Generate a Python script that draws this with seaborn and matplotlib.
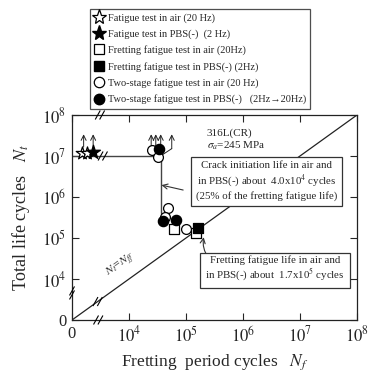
import numpy as np
import matplotlib
matplotlib.use("Agg")
import matplotlib.pyplot as plt
import seaborn as sns
from matplotlib.lines import Line2D

# data (cycles); N_f "0" drawn at the 10^3 position of the broken axis
star_air_nf = [1.5e3, 1.8e3]
star_air_nt = [1.2e7, 1.2e7]
star_pbs_nf = [2.35e3]
star_pbs_nt = [1.22e7]
ff_air_nf = [6.2e4, 1.48e5]
ff_air_nt = [1.65e5, 1.32e5]
ff_pbs_nf = [1.62e5]
ff_pbs_nt = [1.75e5]
ts_air_nf = [2.5e4, 3.2e4, 4.9e4, 4.3e4, 1.0e5]
ts_air_nt = [1.4e7, 9.3e6, 5.4e5, 3.2e5, 1.66e5]
ts_pbs_nf = [3.4e4, 4.0e4, 6.6e4]
ts_pbs_nt = [1.45e7, 2.6e5, 2.8e5]
runout_nf = [1.6e3, 2.35e3, 2.45e4, 2.95e4, 3.6e4]
crack_init = 3.6e4          # step of the N_t line
runout_nt = 1.0e7
step_low = 4.0e5

sns.set_style("ticks")
plt.rcParams['font.family'] = ['Liberation Serif', 'DejaVu Serif']
plt.rcParams['mathtext.fontset'] = 'stix'

fig = plt.figure(figsize=(3.69, 3.79), dpi=100)
ax = fig.add_axes([72/369, 1-320/379, 285/369, 205/379])
L = np.log10

# N_t = N_f line and test-life step line
ax.plot([3, 8], [3, 8], color='#222', lw=0.9, zorder=1)
ax.plot([3, L(crack_init), L(crack_init)], [L(runout_nt), L(runout_nt), L(step_low)],
        color='#444', lw=1.0, zorder=1)

arr = dict(arrowstyle='->', color='#222', lw=0.7, mutation_scale=9, shrinkA=0, shrinkB=0)
# run-out arrows
for x in runout_nf:
    ax.annotate('', xy=(L(x), 7.53), xytext=(L(x), 7.22), arrowprops=arr)
ax.plot([L(crack_init) + 0.03, 4.75], [7.03, 7.18], color='#222', lw=0.7)
ax.annotate('', xy=(4.75, 7.53), xytext=(4.75, 7.18), arrowprops=arr)

kw = dict(edgecolor='black', linewidth=0.9, ax=ax, zorder=3, legend=False)
sns.scatterplot(x=L(star_air_nf), y=L(star_air_nt), marker='*', s=90, color='white', **kw)
sns.scatterplot(x=L(star_pbs_nf), y=L(star_pbs_nt), marker='*', s=110, color='black', **kw)
sns.scatterplot(x=L(ff_air_nf), y=L(ff_air_nt), marker='s', s=45, color='white', **kw)
sns.scatterplot(x=L(ff_pbs_nf), y=L(ff_pbs_nt), marker='s', s=55, color='black', **kw)
sns.scatterplot(x=L(ts_air_nf), y=L(ts_air_nt), marker='o', s=50, color='white', **kw)
sns.scatterplot(x=L(ts_pbs_nf), y=L(ts_pbs_nt), marker='o', s=55, color='black', **kw)


def brk(x, y, vertical=False):
    dx, dy = 2.5/57, 4.5/41
    for k in (-1, 1):
        ox, oy = (0, k*2.0/41) if vertical else (k*2.2/57, 0)
        ax.plot([x+ox-dx, x+ox+dx], [y+oy-dy, y+oy+dy], color='black', lw=0.8,
                clip_on=False, zorder=5, solid_capstyle='butt')


brk(3.46, 3.0)
brk(3.49, 8.0)
brk(3.0, 3.66, vertical=True)
brk(3.45, 3.45)
brk(3.54, 7.0)

ax.set_xlim(3, 8)
ax.set_ylim(3, 8)
ticks = [3, 4, 5, 6, 7, 8]
labels = ['0'] + [f'$10^{{{t}}}$' for t in ticks[1:]]
ax.set_xticks(ticks, labels)
ax.set_yticks(ticks, labels)
ax.tick_params(direction='in', length=5, width=0.8, top=True, right=True, labelsize=12,
               pad=4)
for sp in ax.spines.values():
    sp.set_linewidth(0.9)
    sp.set_color('#222')

ax.set_xlabel('Fretting  period cycles   $N_f$', fontsize=12.5, labelpad=5)
ax.set_ylabel('Total life cycles   $N_t$', fontsize=13, labelpad=7)

ax.text(5.36, 7.56, '316L(CR)', fontsize=8, va='center')
ax.text(5.36, 7.24, r'$\sigma_a$=245 MPa', fontsize=8, va='center')
ax.text(3.86, 4.34, '$N_t$=$N_{ff}$', fontsize=8.5, rotation=35.7, ha='center', va='center')

box = dict(boxstyle='square,pad=0.45', facecolor='white', edgecolor='#333', lw=0.9)
ax.text(6.42, 6.39, 'Crack initiation life in air and\nin PBS(-) about  4.0x10$^4$ cycles\n'
        '(25% of the fretting fatigue life)', fontsize=7.8, ha='center', va='center',
        bbox=box, zorder=4, linespacing=1.2)
ax.text(6.56, 4.24, 'Fretting fatigue life in air and\nin PBS(-) about  1.7x10$^5$ cycles',
        fontsize=7.8, ha='center', va='center', bbox=box, zorder=4, linespacing=1.2)
ax.annotate('', xy=(4.57, 6.29), xytext=(4.95, 6.17),
            arrowprops=dict(arr, color='#333', lw=0.8))
ax.annotate('', xy=(5.31, 5.02), xytext=(5.39, 4.52),
            arrowprops=dict(arr, color='#333', lw=0.8, connectionstyle='arc3,rad=-0.2'))

handles = [
    Line2D([], [], ls='', marker='*', ms=11, mfc='white', mec='black', mew=0.9),
    Line2D([], [], ls='', marker='*', ms=11, mfc='black', mec='black'),
    Line2D([], [], ls='', marker='s', ms=7, mfc='white', mec='black', mew=0.9),
    Line2D([], [], ls='', marker='s', ms=7.5, mfc='black', mec='black'),
    Line2D([], [], ls='', marker='o', ms=7.5, mfc='white', mec='black', mew=0.9),
    Line2D([], [], ls='', marker='o', ms=7.5, mfc='black', mec='black'),
]
names = ['Fatigue test in air (20 Hz)', 'Fatigue test in PBS(-)  (2 Hz)',
         'Fretting fatigue test in air (20Hz)', 'Fretting fatigue test in PBS(-) (2Hz)',
         'Two-stage fatigue test in air (20 Hz)',
         'Two-stage fatigue test in PBS(-)   (2Hz\u219220Hz)']
leg = fig.legend(handles, names, loc='upper left', bbox_to_anchor=(90/369, 1-9/379),
                 fontsize=7.5, frameon=True, fancybox=False, edgecolor='#222',
                 handlelength=0.9, handletextpad=0.4, labelspacing=0.62, borderpad=0.4,
                 borderaxespad=0)
leg.get_frame().set_linewidth(0.9)

fig.savefig('out.png', dpi=100)
